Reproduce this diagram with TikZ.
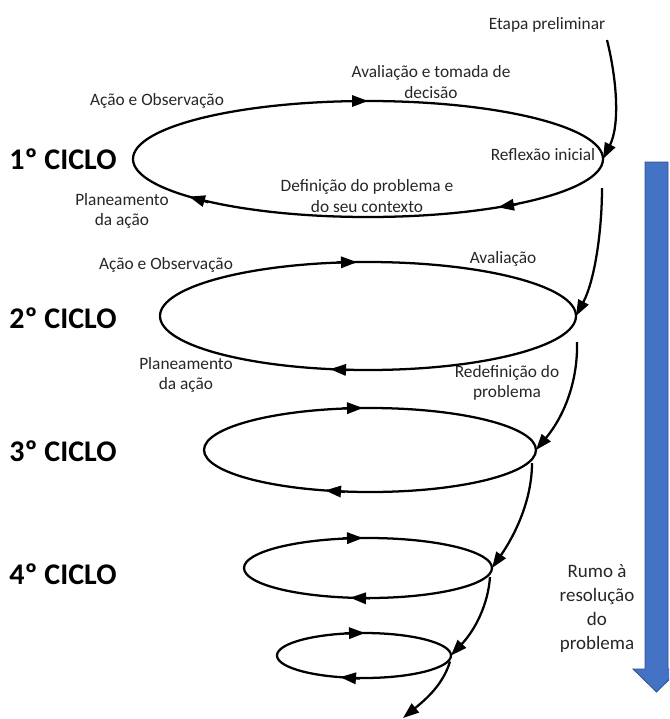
\documentclass[tikz,border=0pt]{standalone}
\usepackage{fontspec}
\setmainfont{Carlito}
\usetikzlibrary{arrows.meta,calc,shapes.geometric}
\definecolor{arrowblue}{HTML}{4472C4}
\definecolor{arrowedge}{HTML}{2F528F}
\def\pxu{0.75pt}
\begin{document}
\begin{tikzpicture}[x=0.75pt,y=-0.75pt,
  cyc/.style={ellipse, draw, line width=1.7pt, inner sep=0pt, outer sep=0pt},
  lbl/.style={font=\fontsize{13}{15.5}\selectfont, align=center, inner sep=0pt, text=black!85},
  ciclo/.style={font=\fontsize{22.5}{25}\selectfont\bfseries, inner sep=0pt, text=black},
  rumo/.style={font=\fontsize{14.25}{18}\selectfont, align=center, inner sep=0pt, text=black!85},
  conn/.style={line width=1.7pt, -{Triangle[length=12pt,width=8.5pt]}},
  tipmark/.style={line width=1.7pt, -{Triangle[length=12pt,width=8.5pt]}}]
\useasboundingbox (0,0) rectangle (669,719);
\clip (0,0) rectangle (669,719);

% blue arrow
\filldraw[fill=arrowblue, draw=arrowedge, line width=0.6pt]
  (645,162) -- (668,162) -- (668,669) -- (680,669) -- (656.5,692) -- (633,669) -- (645,669) -- cycle;

% cycles
\node[cyc, minimum width=470*\pxu, minimum height=116*\pxu] (E1) at (368,159) {};
\node[cyc, minimum width=416*\pxu, minimum height=108*\pxu] (E2) at (368,316) {};
\node[cyc, minimum width=332*\pxu, minimum height=84*\pxu] (E3) at (370,450) {};
\node[cyc, minimum width=248*\pxu, minimum height=60*\pxu] (E4) at (368,568) {};
\node[cyc, minimum width=174*\pxu, minimum height=45*\pxu] (E5) at (364,655.5) {};

% arrow marks on the cycles
\draw[tipmark] (348,101) -- (368,101);
\draw[tipmark] (517.7,204.1) -- (498,207.3);
\draw[tipmark] (208.2,202.2) -- (189,196.6);
\draw[tipmark] (337,262.4) -- (357,262.1);
\draw[tipmark] (350,370.1) -- (330,369.1);
\draw[tipmark] (343,408.2) -- (363,408);
\draw[tipmark] (344.9,491.8) -- (325,490.4);
\draw[tipmark] (343,538.2) -- (363,538);
\draw[tipmark] (370,598.4) -- (350,597.7);
\draw[tipmark] (345,633.2) -- (365,633);
\draw[tipmark] (359.9,678.6) -- (340,677.1);

% labels
\node[lbl] (etapa) at (547,25) {Etapa preliminar};
\node[lbl] (aval1) at (431,82) {Avaliação e tomada de\\decisão};
\node[lbl] (acao1) at (157,101) {Ação e Observação};
\node[ciclo] (c1) at (63,159) {1º CICLO};
\node[lbl] (refl) at (543,155) {Reflexão inicial};
\node[lbl] (def1) at (367,196) {Definição do problema e\\do seu contexto};
\node[lbl] (plan1) at (122,211) {Planeamento\\da ação};
\node[lbl] (acao2) at (166,265) {Ação e Observação};
\node[lbl] (aval2) at (503,259) {Avaliação};
\node[ciclo] (c2) at (63,318) {2º CICLO};
\node[lbl] (plan2) at (186,375) {Planeamento\\da ação};
\node[lbl] (redef) at (507,383) {Redefinição do\\problema};
\node[ciclo] (c3) at (63,451) {3º CICLO};
\node[ciclo] (c4) at (63,574) {4º CICLO};
\node[rumo] (rumo) at (597,608.5) {Rumo à\\resolução\\do\\problema};

% spiral connectors
\coordinate (s0) at (607,40);
\coordinate (s1) at ($(E1.east)+(-1,29)$);
\coordinate (s2) at ($(E2.east)+(1,26)$);
\coordinate (s3) at ($(E3.east)+(-4,13)$);
\coordinate (s4) at ($(E4.east)+(-2,9)$);
\coordinate (s5) at ($(E5.east)+(-1,6)$);
\coordinate (endpt) at (403,718);
\draw[conn] (s0) .. controls (617,80) and (620,125) .. (E1.east);
\draw[conn] (s1) .. controls (602,230) and (595,280) .. (E2.east);
\draw[conn] (s2) .. controls (578,380) and (565,415) .. (E3.east);
\draw[conn] (s3) .. controls (532,500) and (515,535) .. (E4.east);
\draw[conn] (s4) .. controls (488,605) and (475,630) .. (E5.east);
\draw[conn] (s5) .. controls (443,685) and (425,700) .. (endpt);
\end{tikzpicture}
\end{document}
